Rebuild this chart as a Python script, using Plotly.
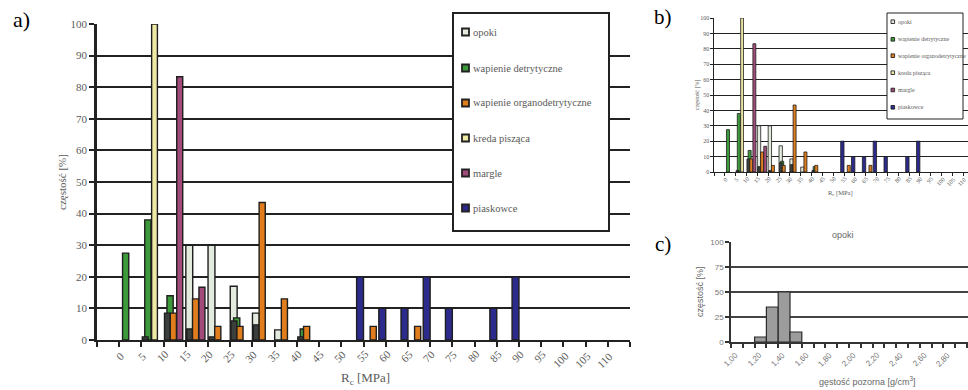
import plotly.graph_objects as go

W, H = 968, 390

# ---------------- data ----------------
rc_categories = [0, 5, 10, 15, 20, 25, 30, 35, 40, 45, 50, 55, 60, 65, 70, 75, 80, 85, 90, 95, 100, 105, 110]
rc_labels = [str(c) for c in rc_categories]

opoki =      [0, 0, 0, 30, 30, 17, 8.5, 3.2, 0, 0, 0, 0, 0, 0, 0, 0, 0, 0, 0, 0, 0, 0, 0]
wap_detr =   [27.5, 38, 14, 0, 0, 7, 0, 0, 3.5, 0, 0, 0, 0, 0, 0, 0, 0, 0, 0, 0, 0, 0, 0]
ciemne =     [0, 1, 8.5, 3.5, 1, 6, 4.8, 0, 1, 0, 0, 0, 0, 0, 0, 0, 0, 0, 0, 0, 0, 0, 0]
wap_org =    [0, 0, 8.5, 13, 4.3, 4.3, 43.5, 13, 4.3, 0, 0, 4.3, 0, 4.3, 0, 0, 0, 0, 0, 0, 0, 0, 0]
kreda =      [0, 100, 0, 0, 0, 0, 0, 0, 0, 0, 0, 0, 0, 0, 0, 0, 0, 0, 0, 0, 0, 0, 0]
margle =     [0, 0, 83.3, 16.7, 0, 0, 0, 0, 0, 0, 0, 0, 0, 0, 0, 0, 0, 0, 0, 0, 0, 0, 0]
piaskowce =  [0, 0, 0, 0, 0, 0, 0, 0, 0, 0, 20, 10, 10, 20, 10, 0, 10, 20, 0, 0, 0, 0, 0]

dens_bins = [1.2, 1.3, 1.4, 1.5]
dens_freq = [5, 35, 50, 10]
dens_tickvals = [1.0, 1.2, 1.4, 1.6, 1.8, 2.0, 2.2, 2.4, 2.6, 2.8]
dens_ticklabels = ["1,00", "1,20", "1,40", "1,60", "1,80", "2,00", "2,20", "2,40", "2,60", "2,80"]

# series: name, values, fill colour, offset, width (x units), legend?
series = [
    ("opoki", opoki, "#e2ebdd", 0.0, 1.55, True),
    ("wapienie detrytyczne", wap_detr, "#3c9a3a", 0.75, 1.4, True),
    ("_dark", ciemne, "#3b403c", 0.2, 1.3, False),
    ("wapienie organodetrytyczne", wap_org, "#e07d1c", 1.5, 1.38, True),
    ("kreda pisząca", kreda, "#efe9a6", 2.3, 1.3, True),
    ("margle", margle, "#a24b7a", 2.95, 1.35, True),
    ("piaskowce", piaskowce, "#2c2b8c", 3.45, 1.55, True),
]

def X(px):
    return px / W

def Y(py):
    return 1 - py / H

fig = go.Figure()

SERIF = "Liberation Serif"
SANS = "Liberation Sans"
GRAY = "#5a5a5a"

for xa, ya, lw in [("x", "y", 1.4), ("x2", "y2", 0.8)]:
    for name, vals, col, off, wid, _ in series:
        xs = [c for c, v in zip(rc_categories, vals) if v > 0]
        ys = [v for v in vals if v > 0]
        fig.add_trace(go.Bar(
            x=xs, y=ys, xaxis=xa, yaxis=ya, name=name,
            offset=off, width=wid,
            marker=dict(color=col, line=dict(color="#1e1e1e", width=lw)),
            showlegend=False,
        ))

fig.add_trace(go.Bar(
    x=[b + 0.05 for b in dens_bins], y=dens_freq, xaxis="x3", yaxis="y3",
    width=0.1, marker=dict(color="#9c9c9c", line=dict(color="#2a2a2a", width=1.2)),
    showlegend=False, name="opoki",
))

C_PX_PER_UNIT = 118.0  # panel c: px per 1.0 g/cm3
c_range_hi = 1.0 + (W - 731) / C_PX_PER_UNIT

layout = dict(
    width=W, height=H, margin=dict(l=0, r=0, t=0, b=0),
    paper_bgcolor="white", plot_bgcolor="white",
    barmode="overlay", showlegend=False,
    xaxis=dict(domain=[X(97), X(630)], range=[-5, 115], tickmode="linear", tick0=-5, dtick=5,
               showticklabels=False,
               ticks="outside", ticklen=5, tickwidth=2, tickcolor="#222",
               showline=True, linecolor="#222", linewidth=2, showgrid=False,
               zeroline=False, anchor="y", automargin=False),
    yaxis=dict(domain=[Y(340), Y(24)], range=[0, 100], dtick=10,
               ticks="outside", ticklen=5, tickwidth=2, tickcolor="#222",
               showline=True, linecolor="#222", linewidth=2.5,
               showgrid=True, gridcolor="#222", gridwidth=2.2, zeroline=False,
               tickfont=dict(family=SERIF, size=11, color=GRAY), anchor="x", automargin=False),
    xaxis2=dict(domain=[X(714), 1.0], range=[-5, 112.2], tickmode="linear", tick0=-5, dtick=5,
                showticklabels=False,
                ticks="outside", ticklen=2.5, tickwidth=1, tickcolor="#222",
                showline=True, linecolor="#222", linewidth=1, showgrid=False,
                zeroline=False, anchor="y2", automargin=False),
    yaxis2=dict(domain=[Y(172), Y(18)], range=[0, 100], dtick=10,
                ticks="outside", ticklen=2.5, tickwidth=1, tickcolor="#222",
                showline=True, linecolor="#222", linewidth=1.2,
                showgrid=True, gridcolor="#222", gridwidth=1.2, zeroline=False,
                tickfont=dict(family=SERIF, size=6, color=GRAY), anchor="x2", automargin=False),
    xaxis3=dict(domain=[X(731), 1.0], range=[1.0, c_range_hi], tickmode="linear", tick0=1.0, dtick=0.1,
                showticklabels=False,
                ticks="outside", ticklen=4, tickwidth=1.5, tickcolor="#333",
                showline=True, linecolor="#333", linewidth=1.5, showgrid=False,
                zeroline=False, anchor="y3", automargin=False),
    yaxis3=dict(domain=[Y(342), Y(242)], range=[0, 100], dtick=25,
                ticks="outside", ticklen=4, tickwidth=1.5, tickcolor="#333",
                showline=True, linecolor="#333", linewidth=1.5,
                showgrid=True, gridcolor="#444", gridwidth=1.6, zeroline=False,
                tickfont=dict(family=SANS, size=8, color="#777"), anchor="x3", automargin=False),
)
fig.update_layout(**layout)

shapes = []
annotations = []

# rotated category labels, positioned at the axis values
for c, s in zip(rc_categories, rc_labels):
    n = len(s)
    shift = {1: 1, 2: -1, 3: -3}[n]
    yy = 359.5 if n == 3 else 356
    annotations.append(dict(x=c, xref="x", y=Y(yy), yref="paper", text=s, textangle=-45,
                            xshift=shift, font=dict(family=SERIF, size=11, color=GRAY)))
    yb = 181.5 if n == 3 else 180
    annotations.append(dict(x=c, xref="x2", y=Y(yb), yref="paper", text=s, textangle=-45,
                            xshift=shift * 0.5, font=dict(family=SERIF, size=6, color=GRAY)))
for v, s in zip(dens_tickvals, dens_ticklabels):
    annotations.append(dict(x=v, xref="x3", y=Y(359.5), yref="paper", text=s, textangle=-45,
                            font=dict(family=SANS, size=8, color="#777")))

def legend_box(x0, y0, x1, y1, lw, items_y, mx, msize, tx, fsize, mlw):
    shapes.append(dict(type="rect", xref="paper", yref="paper", layer="above",
                       x0=X(x0), x1=X(x1), y0=Y(y1), y1=Y(y0),
                       fillcolor="white", line=dict(color="#222", width=lw)))
    leg = [s for s in series if s[5]]
    for (name, _, col, _, _, _), yy in zip(leg, items_y):
        shapes.append(dict(type="rect", xref="paper", yref="paper", layer="above",
                           x0=X(mx), x1=X(mx + msize), y0=Y(yy + msize / 2), y1=Y(yy - msize / 2),
                           fillcolor=col, line=dict(color="#222", width=mlw)))
        annotations.append(dict(x=X(tx), y=Y(yy), text=name, xanchor="left",
                                font=dict(family=SERIF, size=fsize, color=GRAY)))

legend_box(453, 13, 609, 231, 2, [32, 68, 103, 138, 173, 208], 462, 7, 471, 10.5, 1.8)
legend_box(887, 13, 963, 119, 1, [21.7, 39.3, 55.7, 72.7, 90, 107.3], 891, 3.6, 895.5, 6, 0.9)

annotations += [
    dict(x=X(62), y=Y(182), text="częstość [%]", textangle=-90,
         font=dict(family=SERIF, size=11, color=GRAY)),
    dict(x=X(365), y=Y(378), text="R<sub>c</sub> [MPa]",
         font=dict(family=SERIF, size=13, color=GRAY)),
    dict(x=X(697), y=Y(95), text="częstość [%]", textangle=-90,
         font=dict(family=SERIF, size=6, color=GRAY)),
    dict(x=X(840), y=Y(193), text="R<sub>c</sub> [MPa]",
         font=dict(family=SERIF, size=6.5, color=GRAY)),
    dict(x=X(700), y=Y(292), text="częstość [%]", textangle=-90,
         font=dict(family=SANS, size=9, color="#666")),
    dict(x=X(867), y=Y(381), text="gęstość pozorna [g/cm<sup>3</sup>]",
         font=dict(family=SANS, size=9, color="#666")),
    dict(x=X(843), y=Y(235), text="opoki",
         font=dict(family=SANS, size=9, color="#666")),
    dict(x=X(21), y=Y(19), text="a)", font=dict(family=SERIF, size=22, color="black")),
    dict(x=X(663), y=Y(17), text="b)", font=dict(family=SERIF, size=21, color="black")),
    dict(x=X(663), y=Y(244), text="c)", font=dict(family=SERIF, size=21, color="black")),
]
for a in annotations:
    a.setdefault("xref", "paper")
    a.setdefault("yref", "paper")
    a.setdefault("showarrow", False)
    a.setdefault("xanchor", "center")
    a.setdefault("yanchor", "middle")

fig.update_layout(shapes=shapes, annotations=annotations)
fig.write_html("out.html")
